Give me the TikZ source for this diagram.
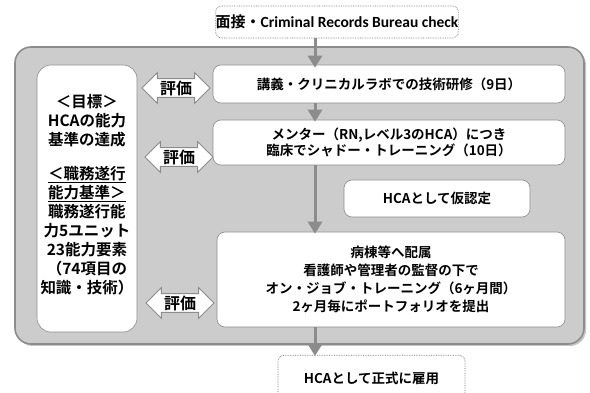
\documentclass[tikz,border=0pt]{standalone}
\usepackage{fontspec}
\setmainfont{Noto Sans CJK JP}[BoldFont={Noto Sans CJK JP Bold}]
\newfontfamily\latfont{Carlito}
\usetikzlibrary{shapes.arrows,shadows,arrows.meta}
\tikzset{
  outerbox/.style={draw=black!45, line width=1.6pt, fill=black!20, rounded corners=16pt,
    drop shadow={shadow xshift=2pt, shadow yshift=-2pt, fill=black!45}},
  whitebox/.style={draw=black!45, line width=0.6pt, fill=white, rounded corners=8pt, align=center, inner sep=0pt},
  dotbox/.style={draw=black!55, densely dotted, line width=0.7pt, fill=white, rounded corners=6pt, align=center, inner sep=0pt},
  evalarrow/.style={double arrow, draw=black!45, line width=0.8pt, fill=white, double arrow head extend=6pt,
    minimum height=68pt, inner xsep=1pt, inner ysep=1.5pt, font=\fontsize{16}{18}\selectfont\bfseries},
  flow/.style={draw=black!45, line width=3pt, -{Triangle[width=14pt,length=12pt]}},
  boxtext/.style={font=\fontsize{13.5}{17}\selectfont\bfseries},
}
\begin{document}
\begin{tikzpicture}[x=1pt,y=-1pt]
\useasboundingbox (0,0) rectangle (590,393);
\clip (0,0) rectangle (590,393);
\fill[white] (0,0) rectangle (590,393);
\coordinate (ax) at (315,0);
% top box
\node[dotbox, minimum width=240pt, minimum height=32pt] (top) at (337,22)
  {\fontsize{15}{17}\selectfont\bfseries 面接・{\latfont\fontsize{15.5}{17}\selectfont Criminal Records Bureau check}};
% outer panel
\node[outerbox, minimum width=569pt, minimum height=297pt] (outer) at (299.5,195.5) {};
% left goal box
\node[whitebox, rounded corners=14pt, minimum width=100pt, minimum height=267pt] (goal) at (87,198.5) {};
\node[font=\fontsize{15.5}{19}\selectfont\bfseries, align=center] (goalA) at (87,121)
  {＜目標＞\\HCAの能力\\基準の達成};
\node[font=\fontsize{15.5}{19}\selectfont\bfseries, align=center] (goalB) at (87,231)
  {\underline{＜職務遂行}\\\underline{能力基準＞}\\職務遂行能\\力5ユニット\\23能力要素\\（74項目の\\知識・技術）};
% steps
\node[whitebox, boxtext, minimum width=352pt, minimum height=38pt] (b1) at (389,84)
  {講義・クリニカルラボでの技術研修（9日）};
\node[whitebox, boxtext, font=\fontsize{13.5}{16}\selectfont\bfseries, minimum width=352pt, minimum height=45pt] (b2) at (389,142.5)
  {メンター（RN,レベル3のHCA）につき\\臨床でシャドー・トレーニング（10日）};
\node[whitebox, boxtext, minimum width=186pt, minimum height=37pt] (b3) at (437,198.5)
  {HCAとして仮認定};
\node[whitebox, boxtext, font=\fontsize{13.5}{18}\selectfont\bfseries, minimum width=348pt, minimum height=95pt] (b4) at (391,279.5)
  {病棟等へ配属\\看護師や管理者の監督の下で\\オン・ジョブ・トレーニング（6ヶ月間）\\2ヶ月毎にポートフォリオを提出};
% evaluation arrows
\node[evalarrow] (e1) at (176,88) {評価};
\node[evalarrow] (e2) at (179,157) {評価};
\node[evalarrow] (e3) at (180,303) {評価};
% final box
\node[dotbox, boxtext, anchor=north, minimum width=187pt, minimum height=46pt] (fin) at (371.5,355)
  {HCAとして正式に雇用};
% flow arrows
\draw[flow] (top.south -| ax) -- ([yshift=-3pt]b1.north -| ax);
\draw[flow] (b1.south -| ax) -- ([yshift=-2pt]b2.north -| ax);
\draw[flow] (b2.south -| ax) -- ([yshift=-2pt]b4.north -| ax);
\draw[flow] (b4.south -| ax) -- ([yshift=-1pt]fin.north -| ax);
\end{tikzpicture}
\end{document}
